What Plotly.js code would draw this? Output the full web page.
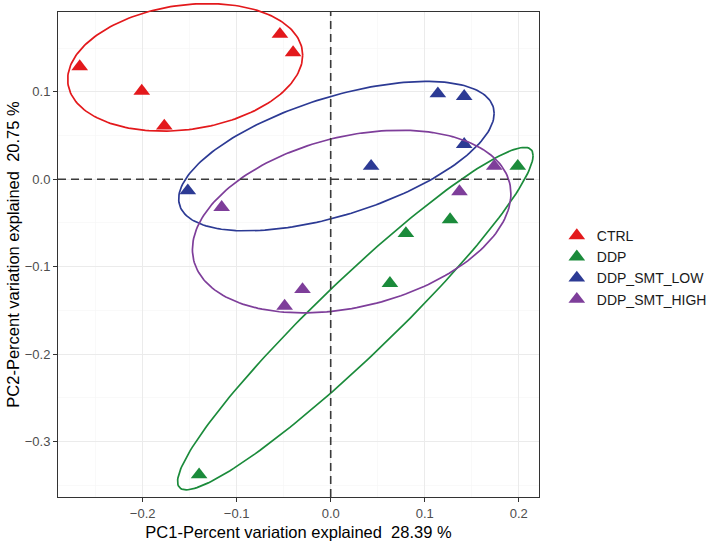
<!DOCTYPE html>
<html>
<head>
<meta charset="utf-8">
<script src="https://cdn.plot.ly/plotly-3.0.1.min.js"></script>
<style>
  body { margin: 0; background: #fff; }
  #chart { width: 712px; height: 545px; }
</style>
</head>
<body>
<div id="chart"></div>
<script>
// PCA scores
var groups = ['CTRL', 'DDP', 'DDP_SMT_LOW', 'DDP_SMT_HIGH'];
var colors = ['#E3191C', '#1B8B3B', '#2C3A94', '#7E3E9A'];

var ctrlX = [-0.267, -0.201, -0.177, -0.054, -0.040];
var ctrlY = [0.129, 0.101, 0.061, 0.166, 0.145];
var ddpX = [-0.140, 0.063, 0.080, 0.127, 0.199];
var ddpY = [-0.338, -0.119, -0.062, -0.046, 0.015];
var lowX = [-0.152, 0.043, 0.114, 0.142, 0.142];
var lowY = [-0.013, 0.015, 0.098, 0.095, 0.040];
var highX = [-0.116, -0.049, -0.030, 0.137, 0.174];
var highY = [-0.032, -0.145, -0.126, -0.014, 0.015];

// group ellipses: centre, half-width, half-height, tilt (correlation)
var ellCx = [-0.1548, 0.0262, 0.0061, 0.0223];
var ellCy = [0.1281, -0.1594, 0.0265, -0.0484];
var ellSx = [0.1250, 0.1891, 0.1678, 0.1694];
var ellSy = [0.0730, 0.1959, 0.0855, 0.1045];
var ellRho = [0.19, 0.952, 0.571, 0.305];

var xs = [ctrlX, ddpX, lowX, highX];
var ys = [ctrlY, ddpY, lowY, highY];

var xRange = [-0.2901, 0.2216];
var yRange = [-0.3635, 0.1914];

// main panel is 485px tall; an invisible twin a bit taller lets the ellipses run over the frame
var panelH = 485, outerH = 494;
var yRangeOuter = [yRange[0], yRange[0] + (yRange[1] - yRange[0]) * outerH / panelH];

function ellipsePath(i) {
  var ex = [], ey = [];
  var s = Math.sqrt(1 - ellRho[i] * ellRho[i]);
  for (var k = 0; k <= 200; k++) {
    var t = 2 * Math.PI * k / 200;
    ex.push(ellCx[i] + ellSx[i] * Math.cos(t));
    ey.push(ellCy[i] + ellSy[i] * (ellRho[i] * Math.cos(t) + s * Math.sin(t)));
  }
  return {x: ex, y: ey};
}

var data = [];
groups.forEach(function (g, gi) {
  data.push({
    x: xs[gi], y: ys[gi], name: g, mode: 'markers', type: 'scatter',
    marker: {symbol: 'triangle-up', size: 14.5, color: colors[gi]}
  });
});
groups.forEach(function (g, gi) {
  var e = ellipsePath(gi);
  data.push({
    x: e.x, y: e.y, xaxis: 'x2', yaxis: 'y2', mode: 'lines', type: 'scatter',
    line: {color: colors[gi], width: 1.7},
    showlegend: false, hoverinfo: 'skip'
  });
});

var font = 'Liberation Sans, Arial, sans-serif';
var axisBase = {
  showline: true, mirror: true, linecolor: '#333333', linewidth: 1,
  ticks: 'outside', ticklen: 4, tickcolor: '#333333', tickwidth: 1,
  gridcolor: '#EBEBEB', gridwidth: 1, zeroline: false, automargin: false,
  tickfont: {family: font, size: 13, color: '#4D4D4D'},
  dtick: 0.1, tick0: 0, tickformat: '.1f',
  minor: {dtick: 0.05, tick0: 0, showgrid: true, gridcolor: '#F5F5F5', gridwidth: 0.6, ticks: ''}
};

var layout = {
  width: 712, height: 545,
  margin: {l: 58, r: 173, t: 3, b: 48, autoexpand: false},
  paper_bgcolor: '#ffffff', plot_bgcolor: 'rgba(0,0,0,0)',
  font: {family: font},
  xaxis: Object.assign({}, axisBase, {
    range: xRange, domain: [0, 1], anchor: 'y',
    title: {text: 'PC1-Percent variation explained  28.39 %', font: {family: font, size: 16.5, color: '#000'}, standoff: 6}
  }),
  yaxis: Object.assign({}, axisBase, {
    range: yRange, domain: [0, panelH / outerH], anchor: 'x',
    title: {text: 'PC2-Percent variation explained  20.75 %', font: {family: font, size: 16.5, color: '#000'}, standoff: 0}
  }),
  xaxis2: {range: xRange, domain: [0, 1], anchor: 'y2', visible: false, showgrid: false, zeroline: false},
  yaxis2: {range: yRangeOuter, domain: [0, 1], anchor: 'x2', visible: false, showgrid: false, zeroline: false},
  shapes: [
    {type: 'line', xref: 'x', yref: 'y domain', x0: 0, x1: 0, y0: 0, y1: 1,
     line: {color: '#3A3A3A', width: 1.6, dash: '8px,5px'}},
    {type: 'line', xref: 'x domain', yref: 'y', x0: 0, x1: 1, y0: 0, y1: 0,
     line: {color: '#3A3A3A', width: 1.6, dash: '8px,5px'}}
  ],
  legend: {
    x: 1.037, xanchor: 'left', y: 0.4646, yanchor: 'middle',
    font: {family: font, size: 14, color: '#1A1A1A'},
    bgcolor: 'rgba(0,0,0,0)'
  },
  showlegend: true
};

Plotly.newPlot('chart', data, layout, {displayModeBar: false, staticPlot: true});
</script>
</body>
</html>
